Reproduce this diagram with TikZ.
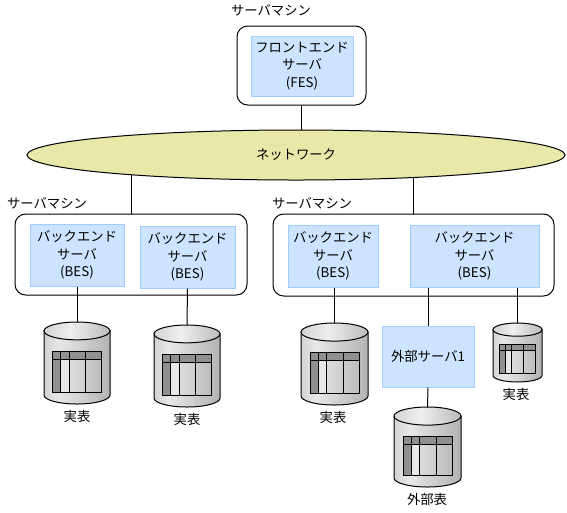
\documentclass[tikz,border=0pt]{standalone}
\usepackage{fontspec}
\setmainfont{Noto Sans CJK JP}
\usepackage{xcolor}
\usetikzlibrary{shapes.geometric,backgrounds}
\definecolor{serverfill}{HTML}{CCE4FF}
\definecolor{serverline}{HTML}{A0CCFF}
\definecolor{netfill}{HTML}{E8E8A8}
\definecolor{celldark}{HTML}{909090}
\definecolor{celllight}{HTML}{E8E8E8}
\pgfdeclarehorizontalshading{dbbody}{100bp}{
  color(0bp)=(celldark!85!white); color(36bp)=(celllight); color(100bp)=(celldark)}
\pgfdeclarehorizontalshading{dbtop}{100bp}{
  color(0bp)=(celldark!70!white); color(45bp)=(celllight!70!white); color(100bp)=(celldark)}
\def\px{0.75pt}
\tikzset{
  lnk/.style={line width=\px},
  txt/.style={font=\fontsize{10}{13}\selectfont,align=center,inner sep=0pt},
  mbox/.style={rectangle,rounded corners=8pt,draw,line width=\px,fill=white},
  srv/.style={rectangle,draw=serverline,fill=serverfill,line width=\px,
    font=\fontsize{10}{13}\selectfont,align=center,inner sep=0pt},
  net/.style={ellipse,draw,line width=\px,fill=netfill,inner sep=0pt},
  pics/dbtable/.style n args={2}{code={
    \pgfmathsetmacro{\dbr}{#1/2}
    \pgfmathsetmacro{\dbe}{0.135*#1}
    \pgfmathsetmacro{\dbl}{-0.365*#1}
    \pgfmathsetmacro{\dbw}{0.74*#1}
    \pgfmathsetmacro{\dbt}{0.365*#2}
    \pgfmathsetmacro{\dbh}{0.49*#2}
    \pgfmathsetmacro{\dbca}{\dbl+0.165*\dbw}
    \pgfmathsetmacro{\dbcb}{\dbl+0.33*\dbw}
    \pgfmathsetmacro{\dbcc}{\dbl+0.67*\dbw}
    \pgfmathsetmacro{\dbx}{\dbl+\dbw}
    \pgfmathsetmacro{\dbm}{\dbt+0.2*\dbh}
    \pgfmathsetmacro{\dbb}{\dbt+\dbh}
    \pgfmathsetmacro{\dbs}{#2-\dbe}
    \draw[lnk,shade,shading=dbbody] (-\dbr,\dbe) -- (-\dbr,\dbs)
      arc[start angle=180,end angle=0,x radius=\dbr,y radius=\dbe] -- (\dbr,\dbe) -- cycle;
    \draw[lnk,shade,shading=dbtop] (0,\dbe) ellipse[x radius=\dbr,y radius=\dbe];
    \fill[celldark] (\dbl,\dbt) rectangle (\dbx,\dbm);
    \fill[celldark] (\dbl,\dbm) rectangle (\dbca,\dbb);
    \fill[celllight] (\dbca,\dbm) rectangle (\dbcb,\dbb);
    \draw[lnk] (\dbl,\dbt) rectangle (\dbx,\dbb);
    \draw[lnk] (\dbl,\dbm) -- (\dbx,\dbm);
    \draw[lnk] (\dbca,\dbt) -- (\dbca,\dbb);
    \draw[lnk] (\dbcb,\dbt) -- (\dbcb,\dbb);
    \draw[lnk] (\dbcc,\dbt) -- (\dbcc,\dbb);
    \coordinate (-top) at (0,0);
  }},
}
\begin{document}
\begin{tikzpicture}[x=\px,y=-\px]
\useasboundingbox (0,0) rectangle (567,512);

% machines
\node[mbox,minimum width=129*\px,minimum height=79*\px] (mfes) at (301.5,65.5) {};
\node[mbox,minimum width=232*\px,minimum height=81*\px] (mleft) at (131,254.5) {};
\node[mbox,minimum width=281*\px,minimum height=82*\px] (mright) at (413.5,255) {};

\node[txt] (lbltop) at (271,10) {サーバマシン};
\node[txt] (lblleft) at (47,203) {サーバマシン};
\node[txt] (lblright) at (312,203) {サーバマシン};

% servers
\node[srv,minimum width=102*\px,minimum height=60*\px] (fes) at (302,66) {フロントエンド\\サーバ\\(FES)};
\node[srv,minimum width=94*\px,minimum height=62*\px] (bes1) at (77,255) {バックエンド\\サーバ\\(BES)};
\node[srv,minimum width=95*\px,minimum height=62*\px] (bes2) at (187.5,257) {バックエンド\\サーバ\\(BES)};
\node[srv,minimum width=90*\px,minimum height=62*\px] (bes3) at (333,256) {バックエンド\\サーバ\\(BES)};
\node[srv,minimum width=129*\px,minimum height=62*\px] (bes4) at (474.5,256) {バックエンド\\サーバ\\(BES)};
\node[srv,minimum width=92*\px,minimum height=61*\px] (ext) at (428,356.5) {外部サーバ1};

\node[net,minimum width=538*\px,minimum height=50*\px,font=\fontsize{10}{13}\selectfont] (nw) at (296,155) {ネットワーク};

% tables
\pic (db1) at (77,322) {dbtable={66}{82}};
\pic (db2) at (187,325) {dbtable={66}{82}};
\pic (db3) at (334.5,323) {dbtable={67}{82}};
\pic (db4) at (427.5,407) {dbtable={67}{80}};
\pic (db5) at (517.5,323) {dbtable={49}{59}};

\node[txt] (tbl1) at (77,416) {実表};
\node[txt] (tbl2) at (187,419) {実表};
\node[txt] (tbl3) at (333,417) {実表};
\node[txt] (tbl4) at (427,499) {外部表};
\node[txt] (tbl5) at (516,394) {実表};

\begin{scope}[on background layer]
  \draw[lnk] (mfes.south) -- (mfes.south |- nw.center);
  \draw[lnk] (mleft.north) -- (mleft.north |- nw.center);
  \draw[lnk] (mright.north) -- (mright.north |- nw.center);
\end{scope}

\draw[lnk] (bes1.south) -- (db1-top);
\draw[lnk] (bes2.south) -- (db2-top);
\draw[lnk] (bes3.south -| db3-top) -- (db3-top);
\draw[lnk] (ext.north) -- (ext.north |- bes4.south);
\draw[lnk] (ext.south) -- (db4-top);
\draw[lnk] (db5-top |- bes4.south) -- (db5-top);
\end{tikzpicture}
\end{document}
